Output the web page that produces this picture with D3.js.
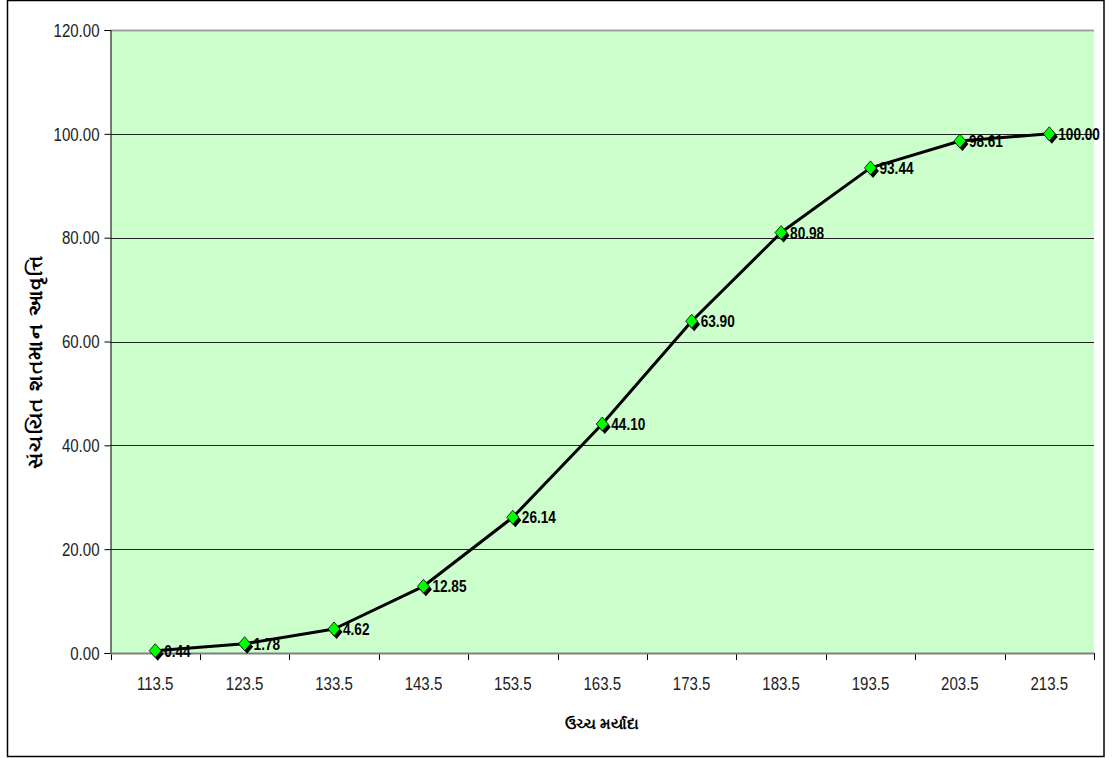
<!DOCTYPE html>
<html><head><meta charset="utf-8">
<script src="https://cdn.jsdelivr.net/npm/d3@7"></script>
<style>body{margin:0;background:#fff}svg{display:block}</style>
</head><body>
<svg id="c" width="1116" height="758"></svg>
<script>
const categories = ["113.5","123.5","133.5","143.5","153.5","163.5","173.5","183.5","193.5","203.5","213.5"];
const values = [0.44,1.78,4.62,12.85,26.14,44.10,63.90,80.98,93.44,98.61,100.00];
const yTicks = [0,20,40,60,80,100,120];
const xTitle = "ઉચ્ચ મર્યાદા";
const yTitle = "સંચયિત શતમાન આવૃત્તિ";

const FONT = "Arial, Liberation Sans, sans-serif";
const svg = d3.select("#c");
const L = 110.5, R = 1094, T = 30, B = 653;
svg.append("rect").attr("x",7.5).attr("y",0.5).attr("width",1096.5).attr("height",756).attr("fill","#fff").attr("stroke","#000").attr("stroke-width",1.5);

const x = d3.scaleBand().domain(categories).range([L,R]).padding(0);
const y = d3.scaleLinear().domain([0,120]).range([B,T]);

function condense(sel, k){
  sel.each(function(){
    const w = this.getComputedTextLength();
    d3.select(this).attr("textLength", w*k).attr("lengthAdjust","spacingAndGlyphs");
  });
}

svg.append("rect").attr("x",L).attr("y",T).attr("width",R-L).attr("height",B-T).attr("fill","#CCFFCC");

// gridlines
svg.append("g").selectAll("line").data(yTicks.filter(d=>d>0)).join("line")
  .attr("x1",L).attr("x2",R).attr("y1",d=>Math.round(y(d))+0.5).attr("y2",d=>Math.round(y(d))+0.5)
  .attr("stroke",d=>d===120?"#A0A0A0":"#202020").attr("stroke-width",d=>d===120?2:1);

// y axis
const ya = svg.append("g").attr("transform",`translate(${L},0)`)
  .call(d3.axisLeft(y).tickValues(yTicks).tickFormat(d3.format(".2f")).tickSize(6).tickPadding(5));
ya.attr("font-size",null);
ya.select(".domain").attr("stroke","#000");
ya.selectAll(".tick line").attr("stroke","#000");
ya.selectAll("text").attr("font-family",FONT).attr("font-size",18).attr("fill","#222").attr("dy","0.35em");
condense(ya.selectAll("text"),0.835);

// x axis
const xa = svg.append("g").attr("transform",`translate(0,${B})`)
  .call(d3.axisBottom(x).tickSize(0).tickPadding(24));
xa.attr("font-size",null);
xa.select(".domain").remove();
xa.selectAll("text").attr("font-family",FONT).attr("font-size",18).attr("fill","#222");
condense(xa.selectAll("text"),0.835);
const bounds = categories.map(c=>x(c)).concat([x(categories[categories.length-1])+x.bandwidth()]);
svg.append("g").selectAll("line").data(bounds).join("line")
  .attr("x1",d=>Math.round(d)+0.5).attr("x2",d=>Math.round(d)+0.5).attr("y1",B).attr("y2",B+7).attr("stroke","#000");
svg.append("line").attr("x1",L).attr("x2",R).attr("y1",B+0.5).attr("y2",B+0.5).attr("stroke","#808080").attr("stroke-width",2);

// line
const cx = d=>x(d.c)+x.bandwidth()/2;
const pts = categories.map((c,i)=>({c,v:values[i]}));
svg.append("path").datum(pts)
  .attr("d",d3.line().x(cx).y(d=>y(d.v)))
  .attr("fill","none").attr("stroke","#000").attr("stroke-width",3).attr("stroke-linejoin","round");

// markers
const dia = "M0,-7L6,0L0,7L-6,0Z";
const mg = svg.append("g");
mg.selectAll("path.sh").data(pts).join("path").attr("class","sh")
  .attr("d",dia).attr("transform",d=>`translate(${cx(d)+2.5},${y(d.v)+3})`).attr("fill","#000");
mg.selectAll("path.mk").data(pts).join("path").attr("class","mk")
  .attr("d",dia).attr("transform",d=>`translate(${cx(d)},${y(d.v)})`).attr("fill","#00FF00").attr("stroke","#000").attr("stroke-width",0.8);

// labels
const lab = svg.append("g").selectAll("text").data(pts).join("text")
  .attr("x",d=>cx(d)+9).attr("y",d=>y(d.v)+6)
  .attr("font-family",FONT).attr("font-size",17).attr("font-weight","bold")
  .attr("fill","#000")
  .text(d=>d.v.toFixed(2));
condense(lab,0.8);

// titles
svg.append("text").attr("x",602).attr("y",729).attr("text-anchor","middle")
  .attr("font-family","Noto Sans, sans-serif").attr("font-size",15).attr("font-weight","bold").text(xTitle);
svg.append("text").attr("transform",`translate(42,362) rotate(-90)`).attr("text-anchor","middle")
  .attr("font-family","Noto Sans, sans-serif").attr("font-size",20).attr("font-weight","bold").attr("letter-spacing",1.5).text(yTitle);
</script>
</body></html>
